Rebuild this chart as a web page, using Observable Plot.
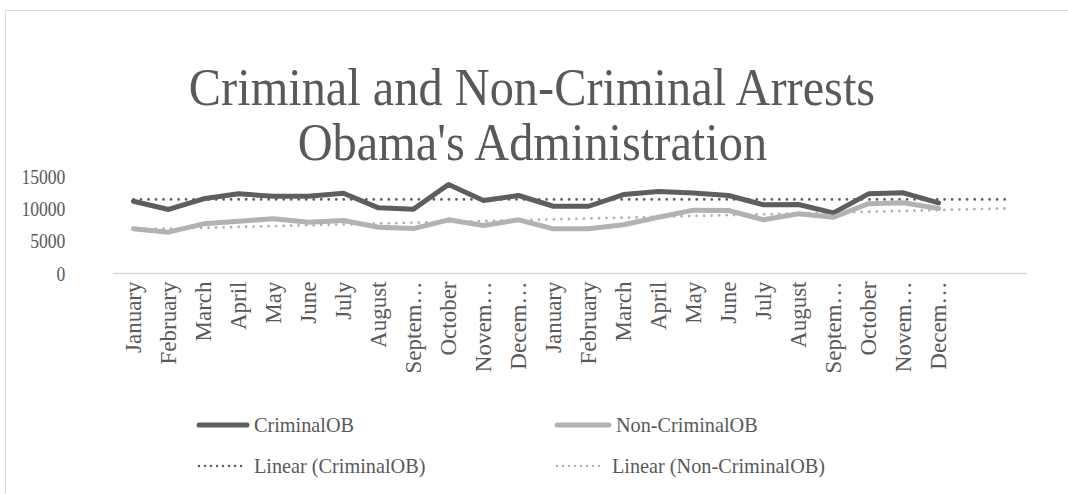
<!DOCTYPE html>
<html>
<head>
<meta charset="utf-8">
<script src="https://cdn.jsdelivr.net/npm/d3@7"></script>
<script src="https://cdn.jsdelivr.net/npm/@observablehq/plot@0.6"></script>
<style>
  html, body { margin: 0; padding: 0; background: #fff; overflow: hidden; }
  #wrap { position: relative; width: 1068px; height: 494px; font-family: "Liberation Serif", serif; color: #595959; overflow: hidden; }
  #frame { position: absolute; left: 5px; top: 10px; width: 1080px; height: 500px; border-left: 1.5px solid #d9d9d9; border-top: 1.5px solid #d9d9d9; }
  #title { position: absolute; left: 0; top: 60px; width: 1064px; text-align: center; font-size: 52px; line-height: 55px; }
  #title span { display: inline-block; transform: scaleX(0.93); transform-origin: center center; white-space: nowrap; }
  #chart { position: absolute; left: 0; top: 160px; }
  .leg { position: absolute; font-size: 22px; line-height: 22px; white-space: nowrap; display: flex; align-items: center; }
  .leg svg { margin-right: 4px; }
  .leg span { display: inline-block; transform: scaleX(0.92); transform-origin: left center; }
</style>
</head>
<body>
<div id="wrap">
  <div id="frame"></div>
  <div id="title"><span>Criminal and Non-Criminal Arrests</span><br><span>Obama's Administration</span></div>
  <div id="chart"></div>
  <div class="leg" style="left:196px; top:414px;"><svg width="54" height="8"><line x1="3" y1="4" x2="51" y2="4" stroke="#5e5e5e" stroke-width="5" stroke-linecap="round"/></svg><span>CriminalOB</span></div>
  <div class="leg" style="left:554px; top:414px;"><svg width="58" height="8"><line x1="3" y1="4" x2="55" y2="4" stroke="#b2b2b2" stroke-width="5" stroke-linecap="round"/></svg><span>Non-CriminalOB</span></div>
  <div class="leg" style="left:196px; top:455px;"><svg width="54" height="8"><line x1="3" y1="4" x2="51" y2="4" stroke="#5e5e5e" stroke-width="2.5" stroke-dasharray="0.01 6" stroke-linecap="round"/></svg><span>Linear (CriminalOB)</span></div>
  <div class="leg" style="left:554px; top:455px;"><svg width="54" height="8"><line x1="3" y1="4" x2="51" y2="4" stroke="#b2b2b2" stroke-width="2.5" stroke-dasharray="0.01 6" stroke-linecap="round"/></svg><span>Linear (Non-CriminalOB)</span></div>
</div>
<script>
// Category labels (two years of months, then two empty forecast slots)
const monthLabels = ["January","February","March","April","May","June","July","August","Septem…","October","Novem…","Decem…"];
const tickLabels = [...monthLabels, ...monthLabels, "", ""];
// Series values
const criminalOB = [11180, 9900, 11550, 12320, 11950, 11950, 12420, 10150, 9950, 13760, 11290, 12060,
                    10400, 10400, 12210, 12680, 12450, 12060, 10620, 10670, 9380, 12320, 12470, 10930];
const nonCriminalOB = [6910, 6390, 7680, 8090, 8460, 7930, 8190, 7160, 6950, 8300, 7420, 8300,
                       6910, 6910, 7530, 8700, 9800, 9740, 8300, 9230, 8700, 10800, 10930, 10050];
const yTicks = [0, 5000, 10000, 15000];

const idx = d3.range(tickLabels.length);

function rows(values) { return values.map((v, i) => ({i, v})); }
// Linear trendline (least squares) extended over the forecast slots
function trend(values) {
  const xs = d3.range(values.length);
  const mx = d3.mean(xs), my = d3.mean(values);
  const b = d3.sum(xs, (x, k) => (x - mx) * (values[k] - my)) / d3.sum(xs, x => (x - mx) ** 2);
  const a = my - b * mx;
  return idx.map(i => ({i, v: a + b * i}));
}

const mLeft = 113, labelRight = 65;
const chart = Plot.plot({
  width: 1068,
  height: 240,
  marginTop: 16,
  marginBottom: 127,
  marginLeft: mLeft,
  marginRight: 41,
  style: {fontFamily: "'Liberation Serif', serif", color: "#595959", background: "transparent", overflow: "visible"},
  x: {type: "point", domain: idx, padding: 0.5},
  y: {domain: [0, 15000]},
  marks: [
    Plot.ruleY([0], {stroke: "#d9d9d9", strokeWidth: 1.5}),
    Plot.axisY({ticks: yTicks, tickSize: 0, tickPadding: mLeft - labelRight, fontSize: 22, label: null, tickFormat: d => String(d)}),
    Plot.axisX({tickSize: 0, tickPadding: 8, tickRotate: -90, fontSize: 23, label: null, tickFormat: i => tickLabels[i]}),
    Plot.line(trend(criminalOB), {x: "i", y: "v", stroke: "#5e5e5e", strokeWidth: 2.8, strokeDasharray: "0.01 7.5", strokeLinecap: "round"}),
    Plot.line(trend(nonCriminalOB), {x: "i", y: "v", stroke: "#b2b2b2", strokeWidth: 2.8, strokeDasharray: "0.01 7.5", strokeLinecap: "round"}),
    Plot.line(rows(criminalOB), {x: "i", y: "v", stroke: "#5e5e5e", strokeWidth: 5, strokeLinejoin: "round", strokeLinecap: "round"}),
    Plot.line(rows(nonCriminalOB), {x: "i", y: "v", stroke: "#b2b2b2", strokeWidth: 5, strokeLinejoin: "round", strokeLinecap: "round"})
  ]
});
document.getElementById("chart").appendChild(chart);
// condense the horizontal y tick labels like the reference's narrow serif (scale about their right edge)
const yl = chart.querySelector('g[aria-label="y-axis tick label"]');
if (yl) {
  const prev = yl.getAttribute("transform") || "";
  yl.setAttribute("transform", `translate(${labelRight},0) scale(0.8,1) translate(${-labelRight},0) ${prev}`);
}
</script>
</body>
</html>
